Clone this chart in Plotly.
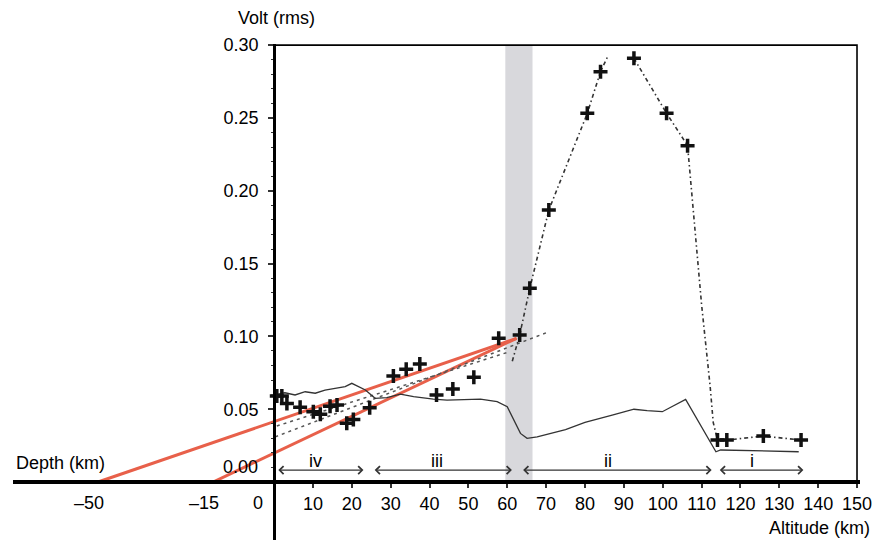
import plotly.graph_objects as go

# ---------------- data ----------------
cross_x = [0.7, 2.0, 3.3, 6.7, 10.1, 11.9, 14.4, 16.2, 18.7, 20.4, 24.6, 30.7, 34.0, 37.5,
           41.8, 46.0, 51.4, 57.8, 63.2, 65.8, 70.7, 80.6, 84.0, 92.6, 101.0, 106.4,
           114.1, 116.5, 125.9, 135.6]
cross_y = [0.059, 0.059, 0.054, 0.0513, 0.0483, 0.0465, 0.052, 0.0529, 0.0403, 0.043, 0.051,
           0.0728, 0.0774, 0.081, 0.0598, 0.0639, 0.0719, 0.0987, 0.101, 0.133, 0.1868,
           0.2532, 0.2818, 0.291, 0.2532, 0.231, 0.0288, 0.0288, 0.0316, 0.0288]

trend_x = [61.3, 63.2, 65.8, 70.7, 80.6, 84.0, 85.8, None,
           92.6, 101.0, 106.4, 108.2, 110.0, 112.2, 113.0, 114.1, 116.5, 125.9, 135.6]
trend_y = [0.083, 0.101, 0.133, 0.1868, 0.2532, 0.2818, 0.292, None,
           0.291, 0.2532, 0.231, 0.178, 0.122, 0.066, 0.041, 0.0288, 0.0288, 0.0316, 0.0288]

solid_x = [0.3, 2.8, 5.4, 8.0, 10.6, 13.1, 15.7, 18.3, 20.0, 21.7, 23.5, 26.0, 29.0, 32.5,
           35.9, 41.0, 44.5, 53.1, 57.4, 60.0, 61.7, 63.4, 65.1, 67.7, 75.0, 80.0, 87.0,
           92.6, 96.0, 99.9, 105.9, 113.7, 114.9, 121.0, 135.0]
solid_y = [0.060, 0.0613, 0.0598, 0.062, 0.061, 0.0632, 0.0643, 0.0655, 0.0678, 0.0655,
           0.0632, 0.0575, 0.058, 0.0604, 0.0586, 0.057, 0.0563, 0.057, 0.0552, 0.0517,
           0.0426, 0.0334, 0.030, 0.031, 0.036, 0.041, 0.046, 0.050, 0.049, 0.0483,
           0.0568, 0.0208, 0.022, 0.0215, 0.0208]

fitA_x = [0.3, 70.0]
fitA_y = [0.031, 0.1025]
fitB_x = [0.7, 60.0]
fitB_y = [0.0385, 0.089]

# depth (negative side) positions on the horizontal axis and their labels
depth_pos = [-45.3, -15.7]
depth_labels = ["–50", "–15"]
red_end_x = 62.4
red_end_y = 0.0987

# altitude regions
region_labels = ["iv", "iii", "ii", "i"]
region_start = [0.7, 25.5, 63.7, 114.3]
region_end = [23.0, 61.2, 112.6, 136.2]
region_label_x = [10.7, 42.0, 86.0, 123.0]

band_x = [59.5, 66.5]

x_ticks = [10, 20, 30, 40, 50, 60, 70, 80, 90, 100, 110, 120, 130, 140, 150]
y_ticks = [0.05, 0.10, 0.15, 0.20, 0.25, 0.30]

# ---------------- figure ----------------
FONT = "Liberation Sans, Arial, sans-serif"
FS = 18
x_range = [-67.18, 150.77]
y_range = [-0.0398, 0.3008]
x0_frac = (0 - x_range[0]) / (x_range[1] - x_range[0])
y0_frac = (0 - y_range[0]) / (y_range[1] - y_range[0])

fig = go.Figure()

# red lines
for dp in depth_pos:
    fig.add_trace(go.Scatter(x=[dp, red_end_x], y=[0, red_end_y], mode="lines",
                             line=dict(color="rgb(232,96,74)", width=3), hoverinfo="skip"))

# dotted fit lines
for fx, fy in [(fitA_x, fitA_y), (fitB_x, fitB_y)]:
    fig.add_trace(go.Scatter(x=fx, y=fy, mode="lines",
                             line=dict(color="#555", width=1.5, dash="3px,4px"), hoverinfo="skip"))

# solid line
fig.add_trace(go.Scatter(x=solid_x, y=solid_y, mode="lines",
                         line=dict(color="#333", width=1.3), hoverinfo="skip"))

# dash-dot trend
fig.add_trace(go.Scatter(x=trend_x, y=trend_y, mode="lines", connectgaps=False,
                         line=dict(color="#333", width=1.6, dash="4px,3px,1.5px,3px"),
                         hoverinfo="skip"))

# crosses
fig.add_trace(go.Scatter(x=cross_x, y=cross_y, mode="markers",
                         marker=dict(symbol="cross-thin", size=10, color="#111",
                                     line=dict(color="#111", width=3.5)),
                         hoverinfo="skip"))

shapes = [
    dict(type="rect", xref="x", yref="y", x0=band_x[0], x1=band_x[1], y0=0, y1=0.30,
         fillcolor="#d8d8dc", line=dict(width=0), layer="below"),
    dict(type="rect", xref="x", yref="y", x0=0, x1=150, y0=0, y1=0.30,
         line=dict(color="black", width=1.6), layer="below"),
]

annotations = []
# region arrows and labels
for lab, s, e, lx in zip(region_labels, region_start, region_end, region_label_x):
    annotations.append(dict(x=e, y=0.0082, ax=s, ay=0.0082, xref="x", yref="y",
                            axref="x", ayref="y", text="", showarrow=True,
                            arrowside="end+start", arrowhead=4, startarrowhead=4,
                            arrowsize=1.3, startarrowsize=1.3,
                            arrowwidth=1.2, arrowcolor="#333", standoff=0, startstandoff=0))
    annotations.append(dict(x=lx, y=0.0144, xref="x", yref="y", text=lab, showarrow=False,
                            font=dict(size=FS, color="black", family=FONT)))

# depth labels
for dp, dl in zip(depth_pos, depth_labels):
    annotations.append(dict(x=dp, y=0, xref="x", yref="y", text=dl, showarrow=False,
                            xshift=-9, yshift=-21, yanchor="middle",
                            font=dict(size=FS, color="black", family=FONT)))
annotations.append(dict(x=0, y=0, xref="x", yref="y", text="0", showarrow=False,
                        xshift=-16, yshift=-21, yanchor="middle",
                        font=dict(size=FS, color="black", family=FONT)))
annotations.append(dict(x=0, y=0.01, xref="x", yref="y", text="0.00", showarrow=False,
                        xanchor="right", xshift=-14, yanchor="middle",
                        font=dict(size=FS, color="black", family=FONT)))
annotations.append(dict(x=0, y=0, xref="paper", yref="y", text="Depth (km)", showarrow=False,
                        xanchor="left", xshift=1, yanchor="middle", yshift=19,
                        font=dict(size=FS, color="black", family=FONT)))
annotations.append(dict(x=0.75, y=1, xref="x", yref="paper", text="Volt (rms)", showarrow=False,
                        yanchor="middle", yshift=26,
                        font=dict(size=FS, color="black", family=FONT)))
annotations.append(dict(x=1, y=0, xref="paper", yref="paper", text="Altitude (km)",
                        showarrow=False, xanchor="right", xshift=12, yanchor="bottom", yshift=0,
                        font=dict(size=FS, color="black", family=FONT)))

minor_vals = [round(i * 0.01, 2) for i in range(1, 30) if i % 5 != 0]

fig.update_layout(
    width=884, height=540,
    margin=dict(l=13, r=24, t=44, b=0, pad=0),
    paper_bgcolor="white", plot_bgcolor="white",
    showlegend=False,
    shapes=shapes, annotations=annotations,
    font=dict(family=FONT, size=FS, color="black"),
    xaxis=dict(range=x_range, anchor="free", position=y0_frac,
               showgrid=False, zeroline=False, showline=True, linecolor="black", linewidth=4,
               tickmode="array", tickvals=x_ticks, ticks="outside", ticklen=4, tickwidth=1.5,
               tickcolor="#333", tickangle=0, tickfont=dict(size=FS, color="black", family=FONT)),
    yaxis=dict(range=y_range, anchor="free", position=x0_frac,
               showgrid=False, zeroline=False, showline=True, linecolor="black", linewidth=3,
               tickmode="array", tickvals=y_ticks, tickformat=".2f",
               ticks="outside", ticklen=5, tickwidth=1.5, tickcolor="#333",
               ticklabelstandoff=6,
               minor=dict(tickmode="array", tickvals=minor_vals, ticks="outside", ticklen=2,
                          tickwidth=1.2, tickcolor="#333", showgrid=False),
               tickfont=dict(size=FS, color="black", family=FONT)),
)

fig.write_html("out.html")
